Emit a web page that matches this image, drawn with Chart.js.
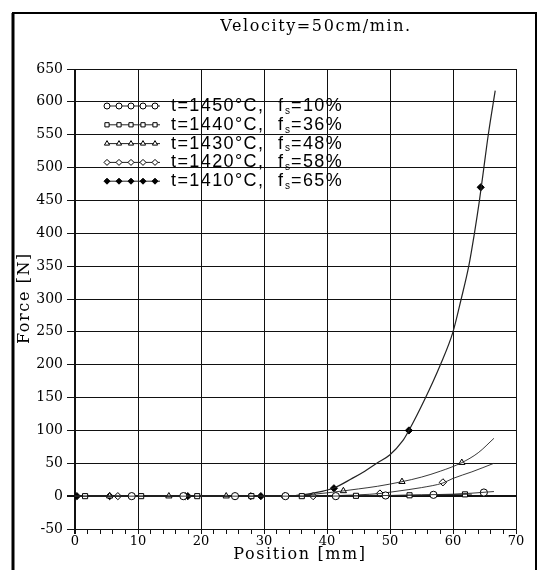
<!DOCTYPE html>
<html>
<head>
<meta charset="utf-8">
<script src="https://cdn.jsdelivr.net/npm/chart.js@4.4.0/dist/chart.umd.min.js"></script>
<style>
  html, body { margin: 0; padding: 0; background: #fff; }
  #wrap { width: 542px; height: 570px; position: relative; }
</style>
</head>
<body>
<div id="wrap"><canvas id="stage"></canvas></div>
<script>
// Force vs position, velocity 50cm/min

// curves (position mm / force N)
var pos1450 = [0, 10, 20, 30, 40, 45, 50, 55, 60, 63, 66.5];
var force1450 = [0, 0, 0, 0, 0, 0.5, 1, 2, 3, 4.5, 7];
var pos1440 = [0, 10, 20, 30, 40, 45, 50, 55, 60, 63];
var force1440 = [0, 0, 0, 0, 0, 0.5, 1, 1.5, 2.5, 3];
var pos1430 = [0, 10, 20, 30, 35, 38, 40, 42.6, 45, 48, 51.9, 55, 58, 61.4, 64, 66.5];
var force1430 = [0, 0, 0, 0, 1, 3, 5, 8, 11, 15, 22, 29, 38, 51, 66, 88];
var pos1420 = [0, 10, 20, 30, 38, 42, 45, 48.4, 50, 53, 55, 58.4, 60, 63, 66.5];
var force1420 = [0, 0, 0, 0, 0, 1, 2, 4, 6, 10, 13, 20, 27, 37, 50];
var pos1410 = [0, 10, 20, 30, 35, 38, 41, 44, 46, 47.9, 50, 52, 53, 55.5, 58, 60, 61.3, 62.5, 63.4, 64.2, 64.9, 65.6, 66.7];
var force1410 = [0, 0, 0, 0, 1, 5, 12, 27, 38, 50, 63, 84, 100, 147, 200, 250, 300, 350, 400, 450, 500, 550, 617];

// marker positions
var mk1450x = [9, 17.2, 25.4, 33.4, 41.4, 49.3, 56.9, 64.9];
var mk1450y = [0, 0, 0, 0, 0, 1, 2, 5.5];
var mk1440x = [1.6, 10.5, 19.4, 28, 36, 44.6, 53.1, 61.9];
var mk1440y = [0, 0, 0, 0, 0, 0.5, 1.3, 2.7];
var mk1430x = [5.5, 14.9, 24, 33.3, 42.6, 51.9, 61.4];
var mk1430y = [0, 0, 0, 0.5, 8, 22, 51];
var mk1420x = [6.8, 17.5, 27.9, 37.8, 48.4, 58.4];
var mk1420y = [0, 0, 0, 0, 4, 21];
var mk1410x = [0.3, 5.5, 17.9, 29.5, 41.1, 53, 64.4];
var mk1410y = [0, 0, 0, 0, 12, 100, 470];

var legendT = ["t=1450°C,", "t=1440°C,", "t=1430°C,", "t=1420°C,", "t=1410°C,"];
var legendF = ["10%", "36%", "48%", "58%", "65%"];

var xTicks = [0, 10, 20, 30, 40, 50, 60, 70];

function pts(xs, ys) {
   var out = [];
   for (var i = 0; i < xs.length; i++) out.push({x: xs[i], y: ys[i]});
   return out;
}

var styles = [
   {pointStyle: 'circle', bg: '#fff'},
   {pointStyle: 'rect', bg: '#fff'},
   {pointStyle: 'triangle', bg: '#fff'},
   {pointStyle: 'rectRot', bg: '#fff'},
   {pointStyle: 'rectRot', bg: '#000'}
];

var curves = [[pos1450, force1450], [pos1440, force1440], [pos1430, force1430], [pos1420, force1420], [pos1410, force1410]];
var marks = [[mk1450x, mk1450y], [mk1440x, mk1440y], [mk1430x, mk1430y], [mk1420x, mk1420y], [mk1410x, mk1410y]];

var datasets = [];
for (var i = 0; i < 5; i++) {
   datasets.push({
      data: pts(curves[i][0], curves[i][1]),
      showLine: true,
      borderColor: '#222',
      borderWidth: i == 4 ? 1.2 : 0.9,
      pointRadius: 0,
      cubicInterpolationMode: 'monotone'
   });
   datasets.push({
      data: pts(marks[i][0], marks[i][1]),
      showLine: false,
      pointStyle: styles[i].pointStyle,
      pointRadius: 3.6,
      pointBorderWidth: 1,
      pointBorderColor: '#000',
      pointBackgroundColor: styles[i].bg
   });
}

var frameAndText = {
   id: 'frameAndText',
   beforeDraw: function(chart) {
      var c = chart.ctx;
      c.save();
      c.fillStyle = '#fff';
      c.fillRect(0, 0, chart.width, chart.height);
      c.strokeStyle = '#000';
      c.lineWidth = 3;
      c.beginPath(); c.moveTo(13, 13); c.lineTo(13, 570); c.stroke();
      c.lineWidth = 2;
      c.beginPath(); c.moveTo(12, 13); c.lineTo(536, 13); c.lineTo(536, 570); c.stroke();
      c.fillStyle = '#000';
      c.textAlign = 'center';
      c.textBaseline = 'middle';
      c.letterSpacing = '1.6px';
      c.font = '16px "DejaVu Serif"';
      c.fillText('Velocity=50cm/min.', 316, 27);
      c.fillText('Position [mm]', 300, 555);
      c.translate(25, 298);
      c.rotate(-Math.PI / 2);
      c.fillText('Force [N]', 0, 0);
      c.restore();
   },
   afterDatasetsDraw: function(chart) {
      var c = chart.ctx;
      c.save();
      for (var i = 0; i < 5; i++) {
         var y = 106 + i * 18.8;
         c.strokeStyle = '#222';
         c.lineWidth = 1;
         c.beginPath(); c.moveTo(105, y); c.lineTo(160, y); c.stroke();
         for (var k = 0; k < 5; k++) {
            c.fillStyle = styles[i].bg;
            c.strokeStyle = '#000';
            c.lineWidth = 1;
            Chart.helpers.drawPoint(c, {pointStyle: styles[i].pointStyle, radius: 3, rotation: 0, borderWidth: 1}, 107 + k * 12, y);
         }
         c.fillStyle = '#000';
         c.textAlign = 'left';
         c.textBaseline = 'middle';
         c.letterSpacing = '1.4px';
         c.font = '18px "Liberation Sans"';
         c.fillText(legendT[i], 171, y);
         c.fillText('f', 278, y);
         c.letterSpacing = '0px';
         c.font = '10px "Liberation Sans"';
         c.fillText('s', 285, y + 5);
         c.letterSpacing = '1.4px';
         c.font = '18px "Liberation Sans"';
         c.fillText('=' + legendF[i], 291, y);
      }
      c.restore();
   }
};

var serif = {family: '"DejaVu Serif"', size: 13};

var chart = new Chart(document.getElementById('stage'), {
   type: 'scatter',
   data: {datasets: datasets},
   options: {
      responsive: true,
      maintainAspectRatio: false,
      animation: false,
      layout: {padding: {left: 0, right: 26, top: 69, bottom: 0}},
      plugins: {legend: {display: false}, tooltip: {enabled: false}},
      scales: {
         x: {
            type: 'linear',
            min: 0, max: 70,
            afterFit: function(s) { s.height = 41; },
            afterBuildTicks: function(s) {
               var t = [];
               for (var v = 0; v <= 70; v += 2) t.push({value: v});
               s.ticks = t;
            },
            ticks: {
               autoSkip: false,
               maxRotation: 0,
               padding: 0,
               color: '#000',
               font: serif,
               callback: function(v) { return xTicks.indexOf(v) >= 0 ? String(v) : ''; }
            },
            grid: {
               color: function(ctx) { return ctx.tick && ctx.tick.value % 10 == 0 ? '#111' : 'rgba(0,0,0,0)'; },
               lineWidth: function(ctx) { return ctx.tick && ctx.tick.value == 0 ? 2 : 1; },
               tickColor: '#111',
               tickLength: 5
            },
            border: {color: '#111', width: 1}
         },
         y: {
            min: -50, max: 650,
            afterFit: function(s) { s.width = 75; },
            ticks: {stepSize: 50, padding: 4, color: '#000', font: {family: '"DejaVu Serif"', size: 14}},
            grid: {
               color: '#111',
               lineWidth: function(ctx) { return ctx.tick && ctx.tick.value == 0 ? 2 : 1; },
               tickColor: '#111',
               tickLength: 8
            },
            border: {color: '#111', width: 1}
         }
      }
   },
   plugins: [frameAndText]
});
</script>
</body>
</html>
